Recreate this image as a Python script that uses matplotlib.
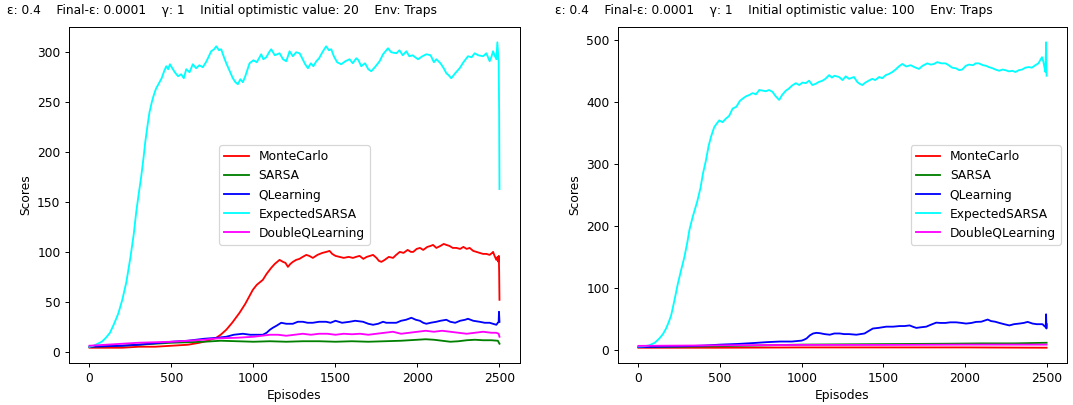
import matplotlib
matplotlib.use("Agg")
import matplotlib.pyplot as plt

# ── DATA ──────────────────────────────────────────────────────────────────────
labels = ["MonteCarlo", "SARSA", "QLearning", "ExpectedSARSA", "DoubleQLearning"]
colors = ["red", "green", "blue", "cyan", "magenta"]

titles = [
    "ε: 0.4    Final-ε: 0.0001    γ: 1    Initial optimistic value: 20    Env: Traps",
    "ε: 0.4    Final-ε: 0.0001    γ: 1    Initial optimistic value: 100    Env: Traps",
]

# left panel (optimistic value 20)
mc20_ep = [0, 100, 200, 300, 400, 500, 600, 671, 720, 773, 800, 834, 870, 915, 950, 996, 1020, 1057, 1080,
           1108, 1130, 1159, 1180, 1195, 1210, 1225, 1240, 1260, 1280, 1300, 1322, 1340, 1362, 1390, 1420,
           1444, 1464, 1480, 1500, 1525, 1550, 1580, 1607, 1625, 1647, 1670, 1690, 1710, 1729, 1750, 1765,
           1780, 1800, 1825, 1851, 1870, 1892, 1915, 1940, 1960, 1974, 1995, 2015, 2035, 2060, 2080, 2095,
           2115, 2140, 2160, 2176, 2195, 2215, 2237, 2260, 2280, 2300, 2318, 2340, 2360, 2379, 2400, 2420,
           2440, 2455, 2461, 2470, 2481, 2488, 2493, 2496, 2498, 2500]
mc20 = [4, 4, 4, 5, 5, 6, 7, 9, 11, 14, 17, 22, 29, 39, 48, 62, 67, 72, 78,
        84, 88, 92, 90, 89, 85, 88, 90, 92, 93, 95, 97, 96, 94, 97, 99,
        100, 101, 98, 96, 95, 94, 95, 94, 95, 96, 93, 95, 96, 97, 94, 91,
        90, 92, 95, 94, 97, 100, 99, 102, 100, 100, 103, 104, 102, 105, 106, 107,
        104, 106, 108, 107, 106, 104, 104, 103, 105, 103, 104, 101, 100, 99, 98, 98,
        97, 99, 100, 96, 92, 95, 90, 96, 80, 52]

sarsa20_ep = [0, 100, 200, 300, 400, 500, 600, 700, 800, 900, 1000, 1100, 1200, 1300, 1400, 1500, 1600,
              1700, 1800, 1900, 2000, 2050, 2100, 2150, 2200, 2250, 2300, 2350, 2400, 2450, 2490, 2500]
sarsa20 = [5, 5.5, 6, 7, 8, 9, 9.5, 10, 11, 10.5, 10, 10.5, 10, 10.5, 10.5, 10, 10.5,
           10, 10.5, 11, 12, 12.5, 12, 11, 10, 10.5, 11.5, 12, 11.5, 11.5, 11, 8]

ql20_ep = [0, 100, 200, 300, 400, 500, 600, 700, 780, 834, 880, 935, 980, 1020, 1057, 1080, 1100, 1118,
           1140, 1169, 1200, 1240, 1270, 1301, 1330, 1362, 1400, 1443, 1470, 1500, 1540, 1586, 1620, 1668,
           1700, 1729, 1760, 1790, 1810, 1840, 1871, 1900, 1930, 1963, 1990, 2015, 2035, 2054, 2080, 2115,
           2140, 2176, 2200, 2230, 2260, 2290, 2308, 2340, 2379, 2410, 2440, 2460, 2481, 2490, 2495, 2497,
           2500]
ql20 = [5, 5.5, 6, 7, 8.5, 10, 11, 13, 14, 15, 17, 18, 17, 17, 17, 19, 22, 24,
        26, 29, 28, 28, 30, 30, 29, 29, 30, 30, 29, 31, 29, 30, 31, 30,
        28, 27, 28, 30, 29, 29, 29, 31, 32, 34, 32, 31, 29, 28, 29, 30,
        31, 32, 30, 29, 31, 32, 33, 31, 30, 29, 29, 28, 27, 29, 30, 40,
        30]

es20_ep = [0, 25, 50, 75, 100, 125, 150, 175, 200, 225, 250, 270, 285, 300, 315, 330, 340, 355, 366, 380,
           390, 400, 407, 420, 440, 455, 468, 480, 490, 505, 520, 540, 559, 575, 590, 610, 630, 650, 670,
           691, 710, 725, 742, 760, 773, 790, 803, 820, 834, 850, 874, 890, 905, 920, 935, 950, 976, 1000,
           1020, 1047, 1060, 1078, 1095, 1108, 1130, 1159, 1180, 1200, 1220, 1240, 1260, 1281, 1300, 1315,
           1332, 1350, 1365, 1383, 1400, 1420, 1443, 1460, 1474, 1490, 1510, 1535, 1560, 1586, 1605, 1627,
           1640, 1657, 1680, 1700, 1718, 1740, 1769, 1790, 1820, 1840, 1871, 1890, 1910, 1932, 1950, 1970,
           2003, 2030, 2054, 2080, 2100, 2115, 2140, 2160, 2176, 2190, 2206, 2230, 2257, 2280, 2308, 2330,
           2349, 2370, 2400, 2420, 2440, 2450, 2461, 2470, 2481, 2487, 2492, 2495, 2498, 2500]
es20 = [5, 6, 8, 10, 14, 19, 28, 38, 52, 70, 95, 118, 140, 158, 175, 195, 210, 228, 240, 250,
        256, 261, 264, 268, 274, 281, 286, 283, 288, 284, 280, 276, 278, 274, 283, 280, 288, 284, 287,
        285, 290, 295, 301, 303, 306, 302, 303, 295, 289, 283, 274, 270, 268, 273, 270, 276, 289, 292,
        290, 298, 293, 295, 300, 303, 297, 299, 293, 291, 301, 296, 300, 299, 293, 288,
        284, 289, 286, 291, 294, 300, 306, 302, 303, 296, 290, 288, 291, 293, 289, 294,
        292, 286, 289, 283, 281, 285, 291, 298, 304, 300, 299, 302, 297, 301, 296, 297,
        293, 296, 298, 297, 290, 293, 289, 284, 279, 277, 274, 279, 284, 290, 296, 295,
        299, 297, 296, 299, 291, 295, 301, 297, 293, 310, 298, 290, 240, 163]

dq20_ep = [0, 100, 200, 300, 400, 500, 600, 700, 750, 800, 900, 1000, 1050, 1100, 1150, 1200, 1250, 1300,
           1350, 1400, 1450, 1500, 1550, 1600, 1650, 1700, 1750, 1800, 1850, 1900, 1950, 2000, 2050, 2100,
           2150, 2200, 2250, 2300, 2350, 2400, 2450, 2480, 2495, 2500]
dq20 = [6, 7, 8, 9, 9.5, 10, 11, 12, 13, 13.5, 14, 15, 16, 17, 17, 16, 17, 18,
        17, 18, 18, 17, 18, 17.5, 18, 17, 18, 19, 20, 18, 19, 20, 21, 20,
        21, 20, 19, 18, 19, 20, 19, 19, 18, 15]

# right panel (optimistic value 100)
mc100_ep = [0, 500, 1000, 1500, 2000, 2500]
mc100 = [4, 4, 4.5, 4.5, 4.5, 4]

sarsa100_ep = [0, 200, 500, 800, 1000, 1300, 1600, 1900, 2100, 2300, 2500]
sarsa100 = [5, 5.5, 6.5, 8, 9, 9.5, 10, 10.5, 11, 11, 12]

ql100_ep = [0, 100, 200, 300, 400, 500, 600, 700, 785, 867, 940, 1000, 1015, 1030, 1050, 1070, 1090, 1111,
            1140, 1172, 1200, 1233, 1260, 1290, 1335, 1360, 1385, 1410, 1436, 1470, 1518, 1560, 1600, 1630,
            1661, 1680, 1702, 1730, 1763, 1790, 1824, 1850, 1880, 1910, 1946, 1980, 2007, 2040, 2068, 2100,
            2139, 2160, 2185, 2211, 2240, 2272, 2300, 2333, 2360, 2384, 2414, 2440, 2475, 2490, 2495, 2497,
            2499, 2500]
ql100 = [5, 5.5, 6, 6.5, 7.5, 9, 10, 11.5, 13, 14, 14, 15.5, 17, 19, 24, 27, 28, 27.5,
         26, 25, 27, 27, 26, 26, 25, 26, 27, 31, 35, 36, 38, 38, 39, 39,
         40, 38, 36, 37, 38, 41, 44.5, 44, 44, 45, 45, 44, 43, 44, 45.7, 46,
         49.5, 47, 46, 44, 42, 40, 42, 43, 44, 45.7, 43, 42, 42, 38, 40, 58,
         35, 42]

es100_ep = [0, 40, 67, 100, 128, 150, 169, 185, 200, 220, 241, 260, 281, 300, 312, 332, 360, 380, 395, 413,
            430, 445, 464, 480, 495, 515, 536, 555, 577, 600, 620, 638, 660, 680, 699, 720, 740, 760, 780,
            800, 821, 840, 862, 880, 903, 920, 940, 964, 985, 1005, 1025, 1045, 1065, 1086, 1105, 1127, 1145,
            1168, 1185, 1200, 1229, 1250, 1270, 1290, 1320, 1340, 1355, 1371, 1390, 1410, 1432, 1450, 1475,
            1493, 1515, 1535, 1555, 1575, 1595, 1616, 1640, 1667, 1690, 1718, 1740, 1769, 1790, 1810, 1830,
            1855, 1881, 1900, 1922, 1945, 1965, 1983, 2005, 2024, 2050, 2065, 2085, 2110, 2130, 2146, 2170,
            2187, 2210, 2230, 2248, 2270, 2290, 2309, 2330, 2350, 2370, 2390, 2410, 2431, 2450, 2465, 2472,
            2480, 2488, 2493, 2497, 2500]
es100 = [6, 6.5, 8, 12, 19, 26, 35, 45, 56, 80, 107, 128, 150, 175, 194, 215, 240, 262, 285, 306,
         330, 345, 360, 366, 371, 368, 374, 378, 390, 393, 402, 406, 410, 412, 415, 413, 420, 419, 418,
         420, 417, 410, 404, 412, 419, 422, 427, 431, 428, 432, 431, 435, 428, 430, 433, 435, 438,
         444, 440, 443, 441, 436, 442, 438, 441, 433, 430, 428, 432, 435, 438, 436, 441,
         439, 444, 446, 449, 453, 458, 462, 458, 460, 457, 454, 459, 463, 461, 462, 465,
         463, 463, 460, 456, 455, 452, 453, 459, 461, 460, 463, 463, 460, 459, 457, 455,
         453, 451, 453, 452, 450, 451, 449, 452, 453, 456, 457, 456, 460, 463, 470, 473,
         466, 455, 449, 497, 443]

dq100_ep = [0, 300, 600, 1000, 1500, 2000, 2400, 2500]
dq100 = [7, 7.5, 8, 8.5, 8.5, 9, 9, 9]

panels = [
    [(mc20_ep, mc20), (sarsa20_ep, sarsa20), (ql20_ep, ql20), (es20_ep, es20), (dq20_ep, dq20)],
    [(mc100_ep, mc100), (sarsa100_ep, sarsa100), (ql100_ep, ql100), (es100_ep, es100), (dq100_ep, dq100)],
]

# ── PLOT ──────────────────────────────────────────────────────────────────────
# reference looks like a downscaled render, so draw at dpi 88 to shrink text/lines
DPI = 88
fig = plt.figure(figsize=(1073 / DPI, 405 / DPI), dpi=DPI)
ax_l = fig.add_axes([0.0643, 0.1037, 0.4203, 0.8296])
ax_r = fig.add_axes([0.576, 0.1037, 0.4184, 0.8296])
title_x = [7 / 1073, 555 / 1073]

for ax, series, title, tx, leg_loc in zip([ax_l, ax_r], panels, titles, title_x, ["center", "center right"]):
    for (ep, val), lab, col in zip(series, labels, colors):
        ax.plot(ep, val, color=col, label=lab, linewidth=1.5)
    ax.set_xlabel("Episodes")
    ax.set_ylabel("Scores")
    ax.legend(loc=leg_loc)
    fig.text(tx, 0.975, title, fontsize=10, ha="left", va="center")

ax_r.set_yticks([0, 100, 200, 300, 400, 500])

fig.savefig("out.png", dpi=DPI)
